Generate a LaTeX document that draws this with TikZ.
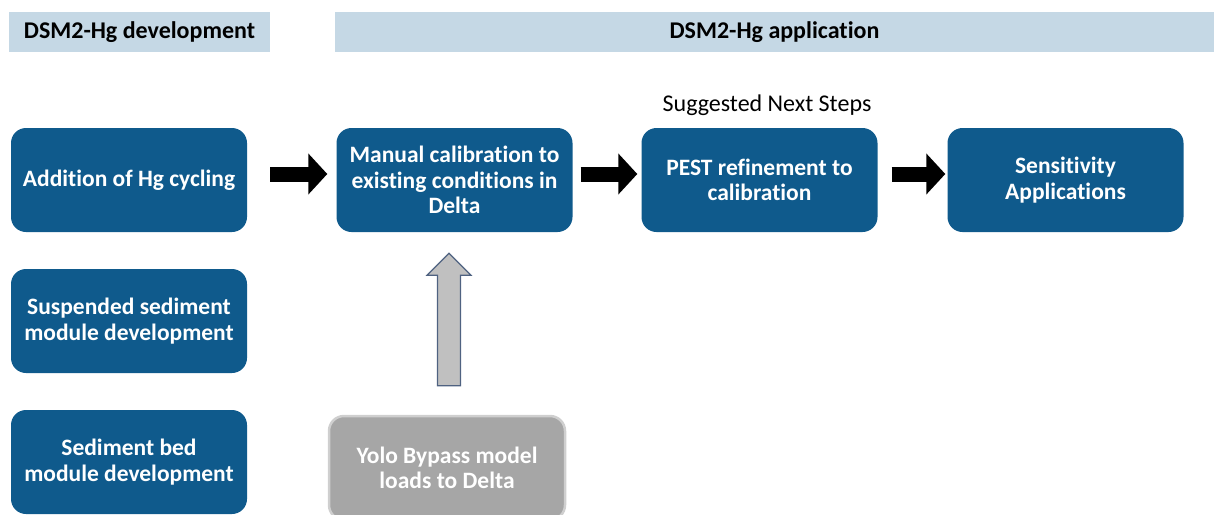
\documentclass[tikz,border=0pt]{standalone}
\usepackage{fontspec}
\setmainfont[Ligatures=NoCommon]{Carlito}
\usetikzlibrary{arrows.meta}
\usetikzlibrary{calc}
\definecolor{stepblue}{HTML}{0F5A8C}
\definecolor{headblue}{HTML}{C5D8E5}
\definecolor{yologray}{HTML}{A6A6A6}
\definecolor{yoloedge}{HTML}{CFCFCF}
\definecolor{arrowgray}{HTML}{C0C0C0}
\definecolor{arrowedge}{HTML}{4F6281}
\tikzstyle{header}=[fill=headblue, inner sep=0pt, minimum height=40, font=\bfseries\fontsize{24}{28}\selectfont]
\tikzstyle{stage}=[fill=stepblue, text=white, rounded corners=15, minimum width=236, minimum height=104, inner sep=0pt, align=center, font=\bfseries\fontsize{23.5}{25.5}\selectfont]
\tikzstyle{loads}=[stage, fill=yologray, draw=yoloedge, line width=2.5]
\tikzstyle{flow}=[line width=15, -{Triangle[length=19pt,width=40pt]}]
\tikzstyle{uparrow}=[fill=arrowgray, draw=arrowedge, line width=1.2]

\begin{document}
\begin{tikzpicture}[x=1pt, y=-1pt]
  \useasboundingbox (0,0) rectangle (1214,514);
  \clip (0,0) rectangle (1214,514);
  \node[header, minimum width=261] (devhead) at (139.5,32) {DSM2-Hg development};
  \node[header, minimum width=879] (apphead) at (774.5,32) {DSM2-Hg application};
  \node[font=\fontsize{24}{28}\selectfont] (next) at (767,105) {Suggested Next Steps};

  \node[stage] (cycling) at (129,180) {Addition of Hg cycling};
  \node[stage] (manual) at (454.5,180) {Manual calibration to\\existing conditions in\\Delta};
  \node[stage] (pest) at (759.5,180) {PEST refinement to\\calibration};
  \node[stage] (sens) at (1065.5,180) {Sensitivity\\Applications};
  \node[stage] (susp) at (129,321) {Suspended sediment\\module development};
  \node[stage] (bed) at (129,462) {Sediment bed\\module development};
  \node[loads] (yolo) at (447,468) {Yolo Bypass model\\loads to Delta};

  \draw[flow, shorten <=23, shorten >=9] ($(cycling.east)+(0,-6)$) -- ($(manual.west)+(0,-6)$);
  \draw[flow, shorten <=8, shorten >=4] ($(manual.east)+(0,-6)$) -- ($(pest.west)+(0,-6)$);
  \draw[flow, shorten <=14, shorten >=2] ($(pest.east)+(0,-6)$) -- ($(sens.west)+(0,-6)$);

  \coordinate (ytail) at ($(yolo.north)+(2,-29)$);
  \coordinate (ytip) at ($(ytail |- manual.south)+(0,21)$);
  \draw[uparrow] let \p1=(ytail), \p2=(ytip) in
    (\x1-11.5pt,\y1) -- (\x1-11.5pt,\y2-22pt) -- (\x1-22pt,\y2-22pt) -- (\p2)
    -- (\x1+22pt,\y2-22pt) -- (\x1+11.5pt,\y2-22pt) -- (\x1+11.5pt,\y1) -- cycle;
\end{tikzpicture}
\end{document}
